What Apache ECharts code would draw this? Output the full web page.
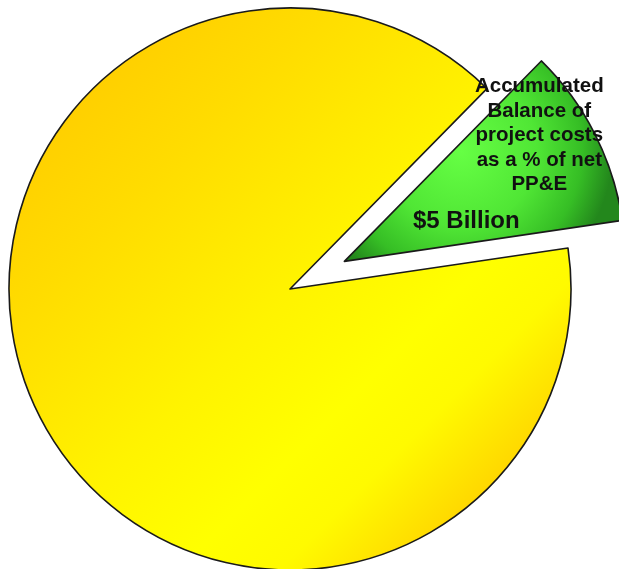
<!DOCTYPE html>
<html>
<head>
<meta charset="utf-8">
<style>
  html, body { margin: 0; padding: 0; background: #ffffff; }
  #chart { width: 619px; height: 569px; }
</style>
<script src="https://cdn.jsdelivr.net/npm/echarts@6/dist/echarts.min.js"></script>
</head>
<body>
<div id="chart"></div>
<script>
// Slice data (billions of dollars)
const sliceNames = ['Accumulated Balance of project costs as a % of net PP&E', 'Remaining net PP&E'];
const sliceValues = [5, 43.5];
// Wrapped lines for the highlighted slice's caption
const captionLines = ['Accumulated', 'Balance of', 'project costs', 'as a % of net', 'PP&E'];

const chart = echarts.init(document.getElementById('chart'), null, { renderer: 'canvas' });

// Diagonal warm sheen across the large slice: amber corners, bright yellow band
const yellowFill = new echarts.graphic.LinearGradient(0, 0, 1, 1, [
  { offset: 0, color: '#FFC900' },
  { offset: 0.15, color: '#FFD000' },
  { offset: 0.28, color: '#FFDC00' },
  { offset: 0.5, color: '#FFF300' },
  { offset: 0.65, color: '#FFFF00' },
  { offset: 0.74, color: '#FFFA00' },
  { offset: 0.86, color: '#FFD500' },
  { offset: 1, color: '#FFC800' }
]);
const greenFill = new echarts.graphic.RadialGradient(0.42, 0.45, 0.75, [
  { offset: 0, color: '#66FF44' },
  { offset: 0.5, color: '#50E635' },
  { offset: 0.8, color: '#36BE25' },
  { offset: 1, color: '#23871C' }
]);
const fills = [greenFill, yellowFill];

const data = sliceValues.map((v, i) => ({
  name: sliceNames[i],
  value: v,
  selected: i === 0,
  itemStyle: { color: fills[i] },
  label: { show: i === 0 }
}));

chart.setOption({
  animation: false,
  backgroundColor: '#ffffff',
  series: [{
    type: 'pie',
    center: [290, 289],
    radius: 281,
    startAngle: 45.5,
    clockwise: true,
    selectedMode: 'single',
    selectedOffset: 61,
    avoidLabelOverlap: false,
    emphasis: { disabled: true },
    itemStyle: { borderColor: '#1a1a1a', borderWidth: 1.6 },
    labelLine: { show: false },
    label: {
      position: 'inside',
      align: 'center',
      formatter: (p) => captionLines.map(l => '{n|' + l + '}').join('\n') +
        '\n{v|$' + p.value + ' Billion}',
      rich: {
        n: {
          fontFamily: '"Liberation Sans", Arial, sans-serif',
          fontWeight: 'bold',
          fontSize: 20.5,
          lineHeight: 24.5,
          color: '#111111'
        },
        v: {
          fontFamily: '"Liberation Sans", Arial, sans-serif',
          fontWeight: 'bold',
          fontSize: 24,
          lineHeight: 49.5,
          color: '#111111',
          padding: [0, 146, 0, 0]
        }
      }
    },
    labelLayout: (params) => params.dataIndex === 0
      ? { dx: 67, dy: -122, verticalAlign: 'top' }
      : {},
    data: data
  }]
});
</script>
</body>
</html>
